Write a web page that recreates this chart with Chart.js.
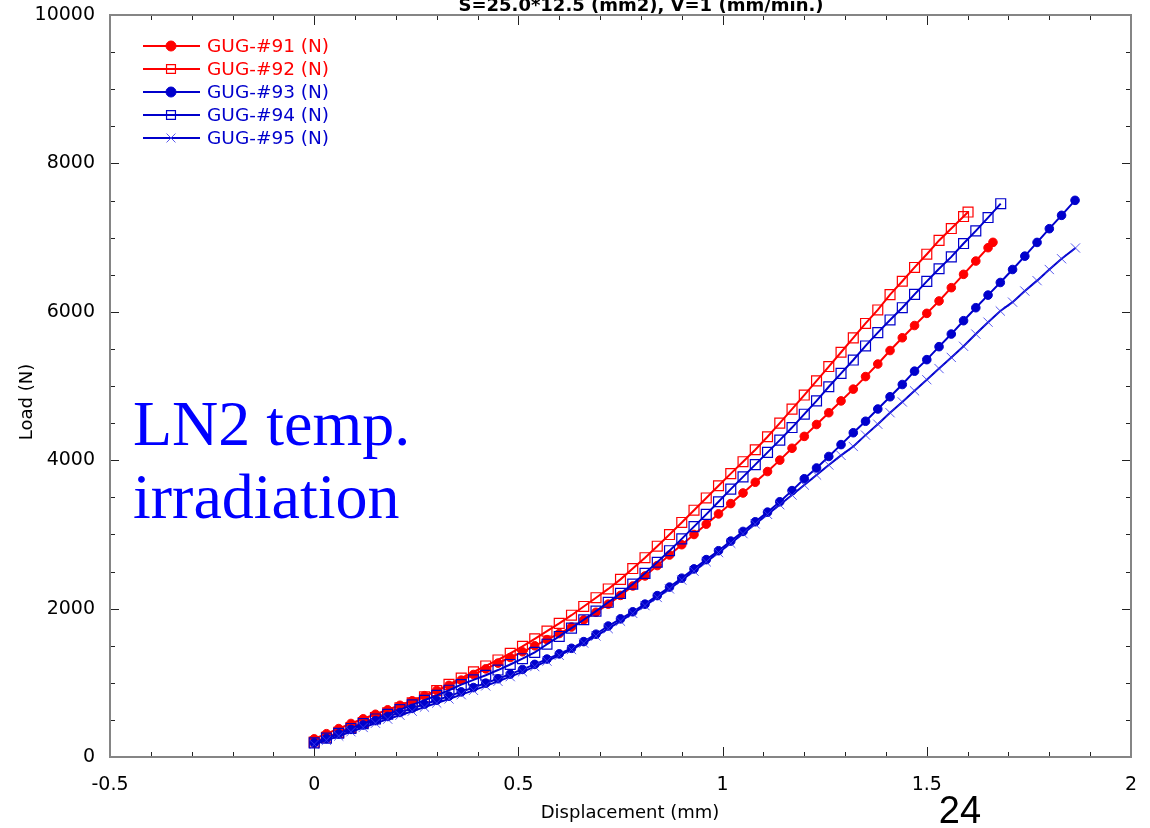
<!DOCTYPE html>
<html>
<head>
<meta charset="utf-8">
<script src="https://cdn.jsdelivr.net/npm/chart.js@4.4.0/dist/chart.umd.min.js"></script>
<style>
    body { margin: 0; background: #fff; }
    #wrap { width: 1150px; height: 828px; }
</style>
</head>
<body>
<div id="wrap"><canvas id="load-chart" width="1150" height="828"></canvas></div>
<script>
// Load vs displacement - GUG samples, LN2 temp. irradiation
const displacement = [0, 0.03, 0.06, 0.09, 0.12, 0.15, 0.18, 0.21, 0.24, 0.27,
    0.30, 0.33, 0.36, 0.39, 0.42, 0.45, 0.48, 0.51, 0.54, 0.57,
    0.60, 0.63, 0.66, 0.69, 0.72, 0.75, 0.78, 0.81, 0.84, 0.87,
    0.90, 0.93, 0.96, 0.99, 1.02, 1.05, 1.08, 1.11, 1.14, 1.17,
    1.20, 1.23, 1.26, 1.29, 1.32, 1.35, 1.38, 1.41, 1.44, 1.47,
    1.50, 1.53, 1.56, 1.59, 1.62, 1.65, 1.68, 1.71, 1.74, 1.77,
    1.80, 1.83];

// last recorded displacement of each sample (mm)
const endDisplacement = [1.662, 1.601, 1.863, 1.681, 1.864];

const load91 = [245, 314, 383, 452, 515, 576, 636, 697, 758, 826,
    896, 965, 1036, 1112, 1188, 1265, 1341, 1418, 1499, 1582,
    1664, 1752, 1848, 1950, 2060, 2178, 2305, 2440, 2580, 2722,
    2861, 2999, 3138, 3276, 3415, 3558, 3703, 3847, 4001, 4161,
    4321, 4481, 4640, 4799, 4958, 5127, 5296, 5478, 5650, 5815,
    5979, 6146, 6325, 6505, 6684, 6864, 6936];
const load92 = [200, 266, 332, 398, 464, 530, 597, 663, 729, 810,
    895, 979, 1064, 1147, 1227, 1308, 1397, 1492, 1593, 1697,
    1801, 1911, 2029, 2147, 2265, 2394, 2540, 2686, 2841, 2998,
    3161, 3326, 3491, 3656, 3819, 3980, 4141, 4316, 4500, 4689,
    4878, 5069, 5262, 5455, 5648, 5843, 6025, 6232, 6412, 6598,
    6776, 6962, 7122, 7284, 7344];
const load93 = [190, 250, 312, 372, 432, 490, 546, 600, 655, 710,
    765, 820, 878, 936, 995, 1055, 1117, 1180, 1248, 1320,
    1390, 1465, 1555, 1655, 1765, 1862, 1957, 2060, 2175, 2290,
    2410, 2535, 2660, 2780, 2910, 3040, 3170, 3300, 3440, 3590,
    3750, 3895, 4050, 4210, 4370, 4525, 4690, 4855, 5020, 5200,
    5355, 5530, 5700, 5880, 6055, 6225, 6395, 6570, 6750, 6935,
    7120, 7300, 7502];
const load94 = [190, 255, 320, 385, 450, 513, 576, 639, 702, 765,
    830, 900, 975, 1040, 1102, 1172, 1247, 1325, 1410, 1520,
    1625, 1737, 1850, 1966, 2085, 2205, 2330, 2475, 2625, 2780,
    2940, 3105, 3270, 3440, 3610, 3775, 3940, 4105, 4270, 4440,
    4620, 4800, 4990, 5170, 5350, 5540, 5720, 5890, 6055, 6235,
    6410, 6580, 6740, 6920, 7090, 7270, 7457];
const load95 = [170, 225, 282, 340, 398, 455, 510, 563, 617, 672,
    727, 782, 840, 898, 958, 1020, 1083, 1148, 1218, 1292,
    1370, 1448, 1535, 1630, 1730, 1830, 1935, 2040, 2150, 2265,
    2385, 2505, 2630, 2755, 2880, 3010, 3140, 3270, 3400, 3530,
    3665, 3800, 3935, 4065, 4185, 4338, 4485, 4640, 4785, 4935,
    5085, 5235, 5385, 5535, 5700, 5860, 6010, 6130, 6280, 6420,
    6570, 6715, 6860];

const seriesLabels = ['GUG-#91 (N)', 'GUG-#92 (N)', 'GUG-#93 (N)', 'GUG-#94 (N)', 'GUG-#95 (N)'];
const seriesLoads = [load91, load92, load93, load94, load95];

const xTickLabels = ['-0.5', '0', '0.5', '1', '1.5', '2'];
const yTickLabels = ['0', '2000', '4000', '6000', '8000', '10000'];

const RED = '#ff0000';
const BLUE = '#0000cc';
const seriesStyles = [
    { color: RED, point: 'circle', radius: 4.3, fill: RED, pointColor: RED, pointWidth: 1 },
    { color: RED, point: 'rect', radius: 7, fill: 'rgba(0,0,0,0)', pointColor: RED, pointWidth: 1.2 },
    { color: BLUE, point: 'circle', radius: 4.3, fill: BLUE, pointColor: BLUE, pointWidth: 1 },
    { color: BLUE, point: 'rect', radius: 7, fill: 'rgba(0,0,0,0)', pointColor: BLUE, pointWidth: 1.2 },
    { color: BLUE, point: 'crossRot', radius: 6.5, fill: 'rgba(0,0,0,0)', pointColor: 'rgba(60,60,235,0.85)', pointWidth: 1 }
];

function buildPoints(loads, lastX) {
    return loads.map((y, i) => ({ x: i === loads.length - 1 ? lastX : displacement[i], y: y }));
}

const datasets = seriesLoads.map((loads, i) => {
    const s = seriesStyles[i];
    return {
        label: seriesLabels[i],
        data: buildPoints(loads, endDisplacement[i]),
        borderColor: s.color,
        borderWidth: 2,
        backgroundColor: s.fill,
        pointStyle: s.point,
        pointRadius: s.radius,
        pointBackgroundColor: s.fill,
        pointBorderColor: s.pointColor,
        pointBorderWidth: s.pointWidth,
        fill: false,
        tension: 0,
        order: 5 - i
    };
});

// frame with inward ticks on all four sides
const framePlugin = {
    id: 'frame',
    beforeDatasetsDraw(chart) {
        const { ctx, chartArea: a, scales: { x, y } } = chart;
        ctx.save();
        ctx.strokeStyle = '#222';
        ctx.lineWidth = 1;
        ctx.beginPath();
        for (let v = -0.5; v <= 2.0001; v += 0.1) {
            const px = Math.round(x.getPixelForValue(v)) + 0.5;
            const major = Math.abs(v * 2 - Math.round(v * 2)) < 1e-6;
            const len = major ? 10 : 5;
            ctx.moveTo(px, a.bottom); ctx.lineTo(px, a.bottom - len);
            ctx.moveTo(px, a.top); ctx.lineTo(px, a.top + len);
        }
        for (let v = 0; v <= 10000; v += 500) {
            const py = Math.round(y.getPixelForValue(v)) + 0.5;
            const len = v % 2000 === 0 ? 9 : 5;
            ctx.moveTo(a.left, py); ctx.lineTo(a.left + len, py);
            ctx.moveTo(a.right, py); ctx.lineTo(a.right - len, py);
        }
        ctx.stroke();
        ctx.strokeStyle = '#858585';
        ctx.lineWidth = 2;
        ctx.strokeRect(a.left, a.top, a.right - a.left, a.bottom - a.top);
        ctx.restore();
    }
};

// texts and legend drawn over the chart
const notesPlugin = {
    id: 'notes',
    afterDraw(chart) {
        const ctx = chart.ctx;
        ctx.save();
        ctx.fillStyle = '#000';
        ctx.textAlign = 'center';
        ctx.textBaseline = 'alphabetic';
        ctx.font = 'bold 18px "DejaVu Sans"';
        ctx.fillText('S=25.0*12.5 (mm2), V=1 (mm/min.)', 641, 11);

        ctx.font = '18px "DejaVu Sans"';
        ctx.fillText('Displacement (mm)', 630, 818);
        ctx.save();
        ctx.translate(32, 402);
        ctx.rotate(-Math.PI / 2);
        ctx.fillText('Load (N)', 0, 0);
        ctx.restore();

        ctx.font = '38px "Liberation Sans"';
        ctx.fillText('24', 960, 823);

        ctx.textAlign = 'left';
        ctx.fillStyle = '#0000ff';
        ctx.font = '64px "Liberation Serif"';
        ctx.fillText('LN2 temp.', 133, 445);
        ctx.fillText('irradiation', 133, 518);

        // legend: line sample with marker, then label
        ctx.font = '18.5px "DejaVu Sans"';
        ctx.textBaseline = 'middle';
        chart.data.datasets.forEach((ds, i) => {
            const ly = 46 + 23 * i;
            ctx.strokeStyle = ds.borderColor;
            ctx.lineWidth = 2;
            ctx.beginPath();
            ctx.moveTo(143, ly);
            ctx.lineTo(200, ly);
            ctx.stroke();
            ctx.fillStyle = ds.pointBackgroundColor;
            ctx.strokeStyle = ds.pointBorderColor;
            ctx.lineWidth = ds.pointBorderWidth;
            Chart.helpers.drawPoint(ctx, {
                pointStyle: ds.pointStyle,
                radius: ds.pointStyle === 'circle' ? 5 : 6.3,
                borderWidth: ds.pointBorderWidth,
                rotation: 0
            }, 171, ly);
            ctx.fillStyle = ds.borderColor;
            ctx.fillText(ds.label, 207, ly + 1);
        });
        ctx.restore();
    }
};

const tickFont = { family: 'DejaVu Sans', size: 19 };

new Chart(document.getElementById('load-chart'), {
    type: 'line',
    data: { datasets: datasets },
    options: {
        responsive: false,
        animation: false,
        layout: { padding: { left: 0, right: 19, top: 15, bottom: 0 } },
        plugins: {
            legend: { display: false },
            tooltip: { enabled: false }
        },
        scales: {
            x: {
                type: 'linear',
                min: -0.5,
                max: 2,
                grid: { display: false, drawTicks: false },
                border: { display: false },
                ticks: {
                    stepSize: 0.5,
                    padding: 17,
                    color: '#000',
                    font: tickFont,
                    maxRotation: 0,
                    autoSkip: false,
                    callback: (value, index) => xTickLabels[index]
                },
                afterFit: scale => {
                    scale.height = 71;
                    scale.paddingLeft = 0;
                    scale.paddingRight = 0;
                }
            },
            y: {
                type: 'linear',
                min: 0,
                max: 10000,
                grid: { display: false, drawTicks: false },
                border: { display: false },
                ticks: {
                    stepSize: 2000,
                    padding: 15,
                    color: '#000',
                    font: tickFont,
                    callback: (value, index) => yTickLabels[index]
                },
                afterFit: scale => {
                    scale.width = 110;
                    scale.paddingTop = 0;
                    scale.paddingBottom = 0;
                }
            }
        }
    },
    plugins: [framePlugin, notesPlugin]
});
</script>
</body>
</html>
